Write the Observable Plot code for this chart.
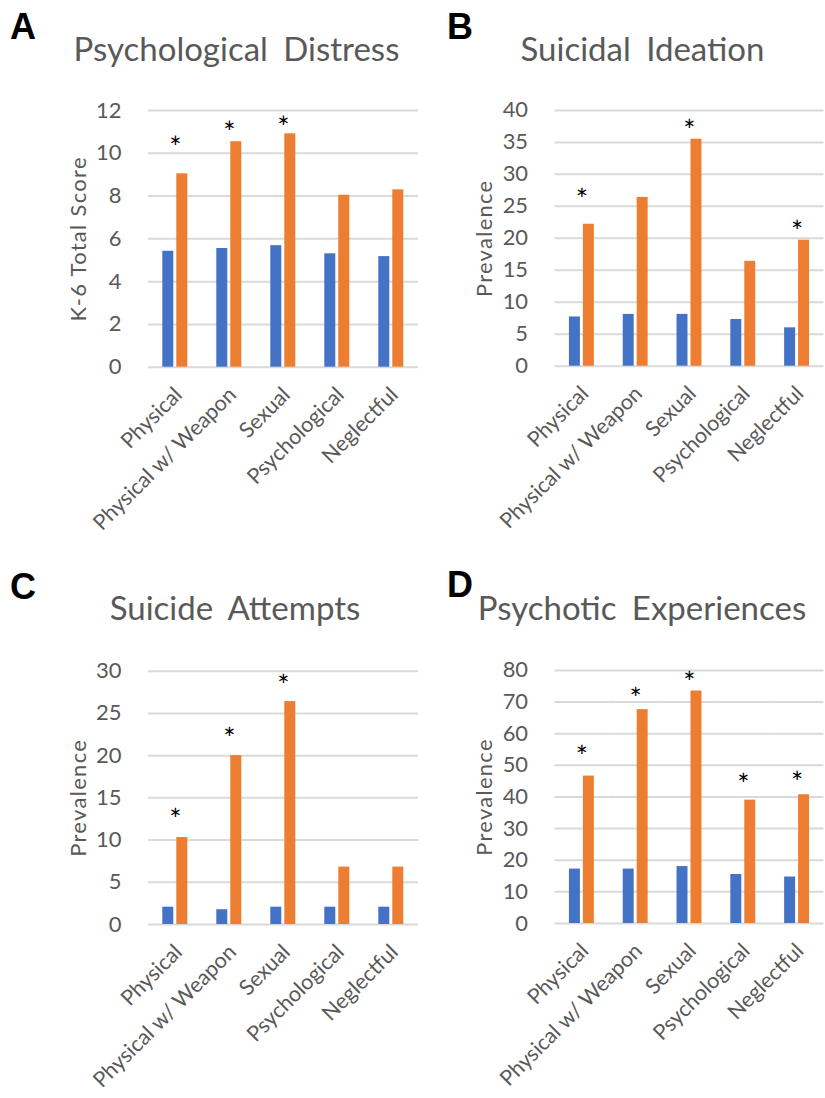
<!DOCTYPE html>
<html>
<head>
<meta charset="utf-8">
<script src="https://cdn.jsdelivr.net/npm/d3@7"></script>
<script src="https://cdn.jsdelivr.net/npm/@observablehq/plot@0.6"></script>
<style>
  html, body { margin: 0; padding: 0; background: #fff; overflow: hidden; }
  #wrap { position: relative; width: 825px; height: 1098px; background: #fff; }
  .panel { position: absolute; }
  .panel svg { overflow: visible; }
  #overlay { position: absolute; left: 0; top: 0; pointer-events: none; }
</style>
</head>
<body>
<div id="wrap"></div>
<script>
// ---- data ----
const categories = ["Physical", "Physical w/ Weapon", "Sexual", "Psychological", "Neglectful"];
const series = ["Not exposed", "Exposed"];

const distressNo  = [5.42, 5.55, 5.68, 5.30, 5.17];
const distressYes = [9.04, 10.54, 10.91, 8.04, 8.29];
const distressStars = [10.55, 11.28, 11.5, null, null];

const ideationNo  = [7.7, 8.1, 8.1, 7.3, 6.0];
const ideationYes = [22.2, 26.4, 35.5, 16.4, 19.7];
const ideationStars = [27.1, null, 37.8, null, 22.0];

const attemptsNo  = [2.05, 1.75, 2.05, 2.05, 2.05];
const attemptsYes = [10.3, 20.0, 26.4, 6.8, 6.8];
const attemptsStars = [13.2, 22.8, 29.0, null, null];

const psychoticNo  = [17.2, 17.2, 18.0, 15.5, 14.7];
const psychoticYes = [46.6, 67.6, 73.5, 39.0, 40.7];
const psychoticStars = [54.6, 73.2, 78.2, 45.8, 46.4];

const ticksA = [0, 2, 4, 6, 8, 10, 12];
const ticksB = [0, 5, 10, 15, 20, 25, 30, 35, 40];
const ticksC = [0, 5, 10, 15, 20, 25, 30];
const ticksD = [0, 10, 20, 30, 40, 50, 60, 70, 80];

const panelLetters = ["A", "B", "C", "D"];
const panelTitles = ["Psychological Distress", "Suicidal Ideation", "Suicide Attempts", "Psychotic Experiences"];
const yLabels = ["K-6 Total Score", "Prevalence", "Prevalence", "Prevalence"];

// ---- layout ----
const FONT = "Lato, 'Open Sans', sans-serif";
const TEXT = "#595959";
const panels = [
  {no: distressNo, yes: distressYes, stars: distressStars, ticks: ticksA, label: yLabels[0],
   left: 0, top: 90, plotLeft: 146.7, plotRight: 420, plotTop: 110, plotBottom: 366.7},
  {no: ideationNo, yes: ideationYes, stars: ideationStars, ticks: ticksB, label: yLabels[1],
   left: 412, top: 90, plotLeft: 553.5, plotRight: 826.5, plotTop: 110, plotBottom: 366.7},
  {no: attemptsNo, yes: attemptsYes, stars: attemptsStars, ticks: ticksC, label: yLabels[2],
   left: 0, top: 650, plotLeft: 146.7, plotRight: 420, plotTop: 670.7, plotBottom: 924},
  {no: psychoticNo, yes: psychoticYes, stars: psychoticStars, ticks: ticksD, label: yLabels[3],
   left: 412, top: 650, plotLeft: 553.5, plotRight: 826.5, plotTop: 670, plotBottom: 924}
];

const wrap = document.getElementById("wrap");

panels.forEach((p) => {
  const rows = [];
  categories.forEach((c, i) => {
    rows.push({cat: c, grp: series[0], v: p.no[i]});
    rows.push({cat: c, grp: series[1], v: p.yes[i]});
  });
  const stars = categories.map((c, i) => ({cat: c, y: p.stars[i]})).filter(d => d.y != null);
  const marginLeft = p.plotLeft - p.left;
  const marginTop = p.plotTop - p.top;
  const plotW = p.plotRight - p.plotLeft;
  const width = marginLeft + plotW;
  const marginBottom = 190;
  const height = marginTop + (p.plotBottom - p.plotTop) + marginBottom;
  const ymax = p.ticks[p.ticks.length - 1];

  const chart = Plot.plot({
    width, height, marginLeft, marginRight: 0, marginTop, marginBottom,
    style: {fontFamily: FONT, color: TEXT, background: "transparent", overflow: "visible"},
    fx: {domain: categories, padding: 0, label: null},
    x: {domain: series, axis: null, paddingInner: 0.184, paddingOuter: 0.949},
    y: {domain: [0, ymax], axis: null},
    color: {domain: series, range: ["#4472C4", "#ED7D31"]},
    marks: [
      Plot.gridY(p.ticks, {stroke: "#d9d9d9", strokeOpacity: 1, strokeWidth: 2}),
      Plot.barY(rows, {fx: "cat", x: "grp", y: "v", fill: "grp"}),
      Plot.text(stars, {fx: "cat", y: "y", text: () => "*", fontSize: 29, fill: "#000", dy: 7.5}),
      Plot.axisY(p.ticks, {tickSize: 0, tickPadding: 27, fontSize: 22, label: null}),
      Plot.text([{cat: categories[0]}], {fx: "cat", text: () => p.label, frameAnchor: "left", rotate: -90,
        textAnchor: "middle", dx: -70, fontSize: 22, fill: TEXT}),
      Plot.axisFx({anchor: "bottom", tickSize: 0, tickPadding: 24, dx: 3, tickRotate: -45, fontSize: 21.5, label: null})
    ]
  });
  d3.select(chart).selectAll("text")
    .filter(function () { return this.textContent === p.label; })
    .style("letter-spacing", "1.3px");
  const div = document.createElement("div");
  div.className = "panel";
  div.style.left = p.left + "px";
  div.style.top = p.top + "px";
  div.appendChild(chart);
  wrap.appendChild(div);
});

// ---- overlay: panel letters and titles ----
const ns = "http://www.w3.org/2000/svg";
const ov = document.createElementNS(ns, "svg");
ov.setAttribute("id", "overlay");
ov.setAttribute("width", 825);
ov.setAttribute("height", 1098);
const letterPos = [[10, 39], [447, 39], [10, 599], [447, 597]];
const titlePos = [[236.5, 61], [642.5, 61], [235, 620], [642, 620]];
panelLetters.forEach((L, i) => {
  const t = document.createElementNS(ns, "text");
  t.setAttribute("x", letterPos[i][0]);
  t.setAttribute("y", letterPos[i][1]);
  t.setAttribute("font-family", "'Liberation Sans', Arial, sans-serif");
  t.setAttribute("font-weight", "bold");
  t.setAttribute("font-size", 36);
  t.setAttribute("fill", "#000");
  t.textContent = L;
  ov.appendChild(t);
});
panelTitles.forEach((T, i) => {
  const t = document.createElementNS(ns, "text");
  t.setAttribute("x", titlePos[i][0]);
  t.setAttribute("y", titlePos[i][1]);
  t.setAttribute("text-anchor", "middle");
  t.setAttribute("font-family", FONT);
  t.setAttribute("font-size", 33);
  t.setAttribute("word-spacing", 7);
  t.setAttribute("fill", TEXT);
  t.textContent = T;
  ov.appendChild(t);
});
wrap.appendChild(ov);
</script>
</body>
</html>
